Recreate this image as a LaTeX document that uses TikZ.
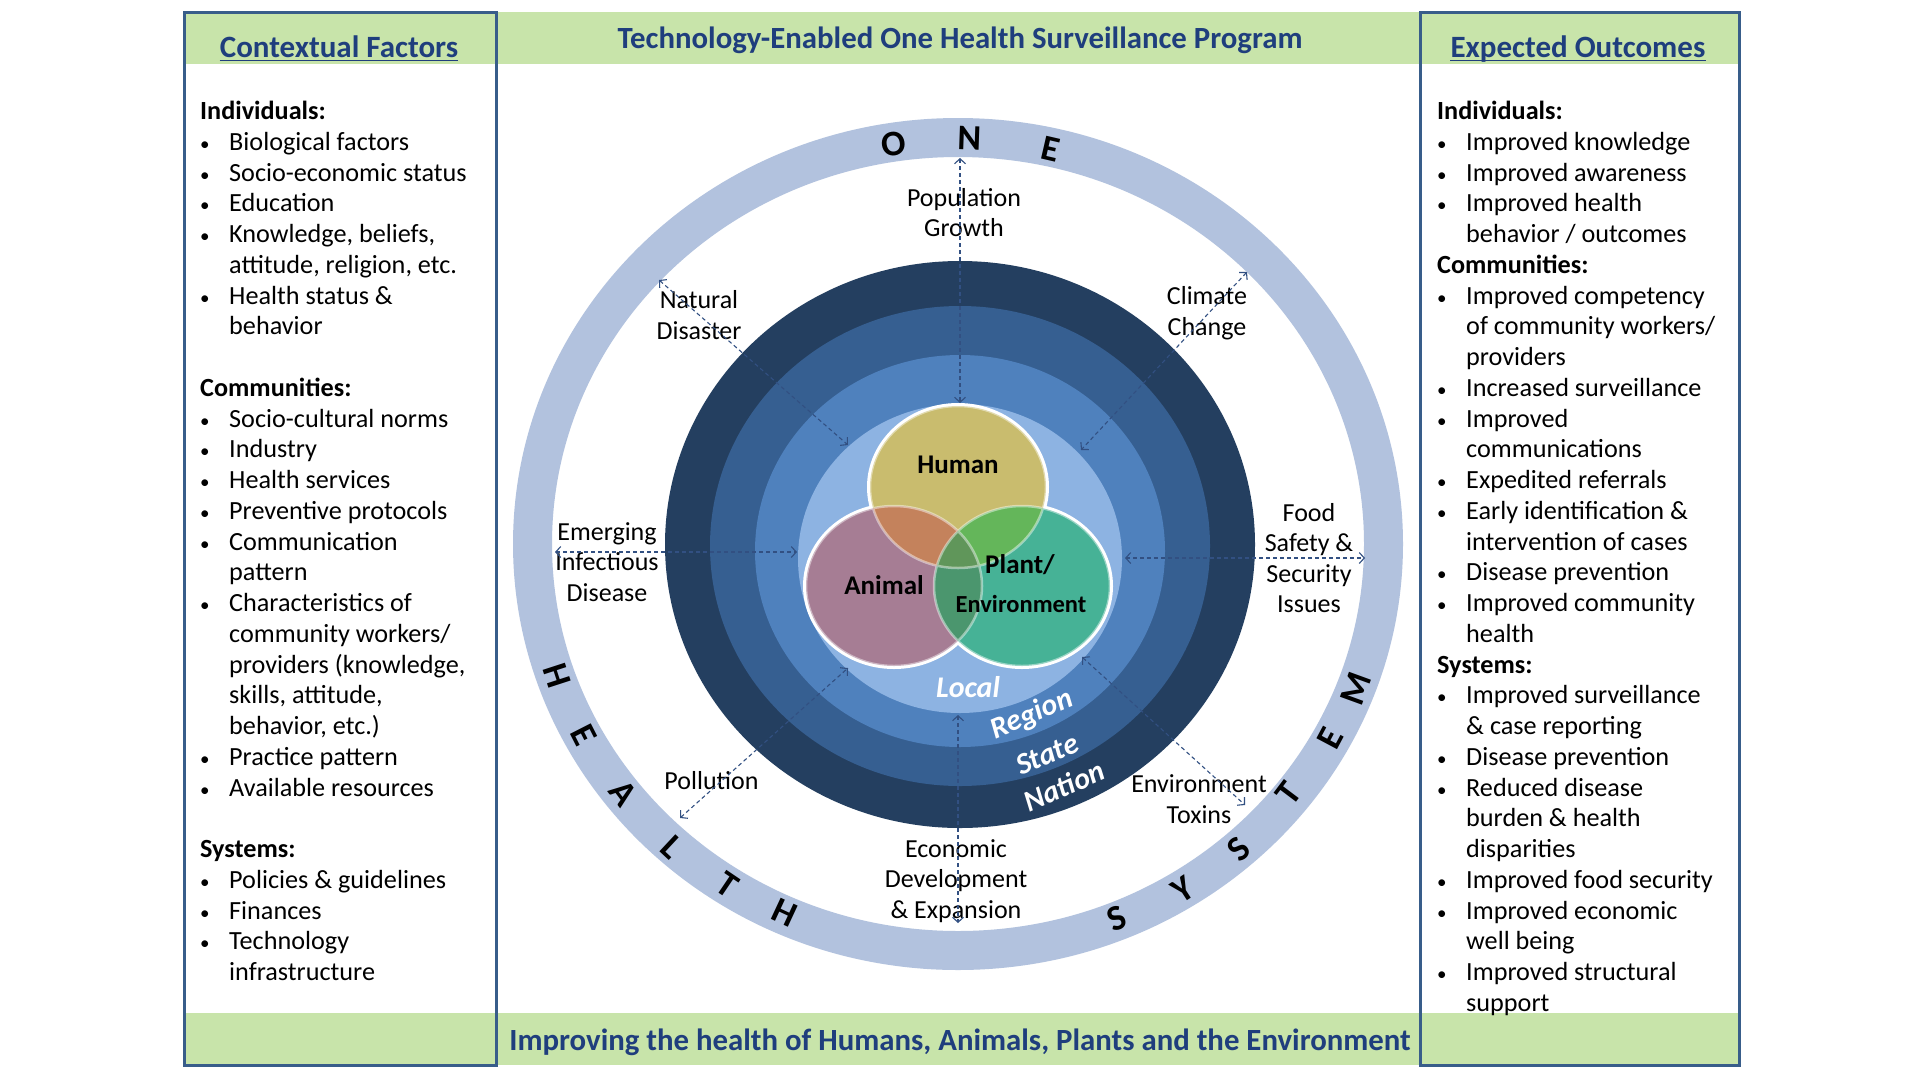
\documentclass[tikz,border=0pt]{standalone}
\usepackage{fontspec}
\setmainfont{Carlito}
\usetikzlibrary{arrows.meta}
\definecolor{gband}{RGB}{200,228,170}
\definecolor{framec}{RGB}{56,93,138}
\definecolor{ttl}{RGB}{31,62,125}
\definecolor{ringc}{RGB}{178,194,222}
\definecolor{navy}{RGB}{36,63,96}
\definecolor{ringb}{RGB}{54,95,145}
\definecolor{ringa}{RGB}{79,129,189}
\definecolor{lightb}{RGB}{141,179,226}
\definecolor{hum}{RGB}{201,188,110}
\definecolor{ani}{RGB}{166,125,148}
\definecolor{pla}{RGB}{70,178,150}
\definecolor{hac}{RGB}{196,130,92}
\definecolor{hpc}{RGB}{100,182,90}
\definecolor{apc}{RGB}{75,150,110}
\definecolor{hapc}{RGB}{96,150,90}
\definecolor{arrc}{RGB}{50,80,130}
\newcommand\pbul{\makebox[29pt][l]{{\fontsize{19}{19}\selectfont •}}}
\newcommand\pind{\hspace*{29pt}}
\begin{document}
\begin{tikzpicture}[x=1pt,y=-1pt,
  lbl/.style={font=\fontsize{26}{30.6}\selectfont, align=center, inner sep=0pt},
  ltr/.style={font=\fontsize{36}{36}\selectfont\bfseries, inner sep=0pt},
  darr/.style={draw=arrc, line width=1.1pt, dash pattern=on 4pt off 3pt,
    {Straight Barb[length=5pt,width=11pt]}-{Straight Barb[length=5pt,width=11pt]}},
  ringlbl/.style={font=\fontsize{30}{30}\selectfont\bfseries\itshape, text=white, inner sep=0pt},
  venn/.style={font=\fontsize{27}{27}\selectfont\bfseries, inner sep=0pt},
  head/.style={font=\fontsize{31}{31}\selectfont\bfseries, text=ttl, inner sep=0pt},
  panel/.style={anchor=base west, inner sep=0pt, font=\fontsize{26.2}{30.75}\selectfont}
]
\fill[white] (0,0) rectangle (1920,1080);
\useasboundingbox (0,0) rectangle (1920,1080);

% green bands
\fill[gband] (184,12) rectangle (1739,64);
\fill[gband] (184,1013) rectangle (1739,1065);

% outer ring
\fill[ringc, even odd rule] (958,544) ellipse [x radius=445, y radius=426]
   (958,544) ellipse [x radius=406, y radius=387];

% blue discs
\fill[navy] (960,544.5) ellipse [x radius=295, y radius=283.5];
\fill[ringb] (960,546) ellipse [x radius=250, y radius=240];
\fill[ringa] (960,551) ellipse [x radius=205, y radius=196];
\fill[lightb] (960,558.5) ellipse [x radius=162, y radius=154.5];

% venn
\def\pH{(958,487) ellipse [x radius=88, y radius=81]}
\def\pA{(894,586) ellipse [x radius=88, y radius=80]}
\def\pP{(1022,586) ellipse [x radius=88, y radius=80]}
\draw[white, line width=6pt] \pH \pA \pP;
\fill[hum] \pH;
\fill[ani] \pA;
\fill[pla] \pP;
\begin{scope}\clip \pH; \fill[hac] \pA; \fill[hpc] \pP;\end{scope}
\begin{scope}\clip \pA; \fill[apc] \pP;\end{scope}
\begin{scope}\clip \pH; \clip \pA; \fill[hapc] \pP;\end{scope}
\draw[white, opacity=0.45, line width=2.5pt] \pH \pA \pP;

\node[venn] (human) at (958,465) {Human};
\node[venn] (animal) at (884,585) {Animal};
\node[venn] (plant) at (1020,565) {Plant/};
\node[venn, font=\fontsize{24.5}{24.5}\selectfont\bfseries] (envr) at (1021,604) {Environment};

% ring labels
\node[ringlbl] (local) at (968,687) {Local};
\node[ringlbl, rotate=23] (region) at (1032,715) {Region};
\node[ringlbl, rotate=23] (state) at (1047,754) {State};
\node[ringlbl, rotate=24] (nation) at (1064,786) {Nation};

% ring letters
\node[ltr, rotate=9] (o1) at (894,144.5) {O};
\node[ltr, rotate=-2] (n1) at (970,138) {N};
\node[ltr, rotate=-13] (e1) at (1051,149) {E};
\node[ltr, rotate=-72] (h1) at (557,676) {H};
\node[ltr, rotate=-63] (e2) at (584,735) {E};
\node[ltr, rotate=-53] (a2) at (623,793) {A};
\node[ltr, rotate=-43] (l2) at (672,847) {L};
\node[ltr, rotate=-34] (t2) at (727,885) {T};
\node[ltr, rotate=-25] (h2) at (785,913) {H};
\node[ltr, rotate=23] (s3) at (1117,918) {S};
\node[ltr, rotate=33] (y3) at (1183,890) {Y};
\node[ltr, rotate=43] (s4) at (1239,849) {S};
\node[ltr, rotate=53] (t3) at (1289,793.5) {T};
\node[ltr, rotate=62] (e3) at (1330,738) {E};
\node[ltr, rotate=70] (m3) at (1355.5,689) {M};

% factor labels
\node[lbl] (popg) at (964,212.5) {Population\\Growth};
\node[lbl] (natd) at (699,315) {Natural\\Disaster};
\node[lbl] (clim) at (1207,313) {Climate\\Change};
\node[lbl] (emer) at (607,562) {Emerging\\Infectious\\Disease};
\node[lbl] (food) at (1309,558) {Food\\Safety \&\\Security\\Issues};
\node[lbl] (poll) at (711.5,781) {Pollution};
\node[lbl] (envt) at (1199,799) {Environment\\Toxins};
\node[lbl] (econ) at (956,881) {Economic\\Development\\\& Expansion};

% arrows
\coordinate (pgA) at (960,158); \coordinate (pgB) at (960,403);
\coordinate (ndA) at (659,280); \coordinate (ndB) at (848,445);
\coordinate (ccA) at (1247,272); \coordinate (ccB) at (1081,450);
\coordinate (eiA) at (555,552); \coordinate (eiB) at (797,552);
\coordinate (fsA) at (1125,558); \coordinate (fsB) at (1365,558);
\coordinate (plA) at (680,818); \coordinate (plB) at (848,668);
\coordinate (etA) at (1082,657); \coordinate (etB) at (1245,805);
\coordinate (edA) at (958,715); \coordinate (edB) at (958,923);
\draw[darr] (pgA) -- (pgB);
\draw[darr] (ndA) -- (ndB);
\draw[darr] (ccA) -- (ccB);
\draw[darr] (eiA) -- (eiB);
\draw[darr] (fsA) -- (fsB);
\draw[darr] (plA) -- (plB);
\draw[darr] (etA) -- (etB);
\draw[darr] (edA) -- (edB);

% titles
\node[font=\fontsize{30.8}{30.8}\selectfont\bfseries, text=ttl, inner sep=0pt] (title) at (960,40) {Technology-Enabled One Health Surveillance Program};
\node[font=\fontsize{30.8}{30.8}\selectfont\bfseries, text=ttl, inner sep=0pt] (foot) at (960,1042) {Improving the health of Humans, Animals, Plants and the Environment};

% panel frames
\draw[framec, line width=3pt] (184,12) rectangle (496,1065);
\draw[framec, line width=3pt] (1420,12) rectangle (1739,1065);

\node[head, anchor=base] (cfh) at (339,57.5) {Contextual Factors};
\draw[ttl, line width=1.8pt] ([yshift=-3pt]cfh.base west) -- ([yshift=-3pt]cfh.base east);
\node[head, anchor=base] (eoh) at (1578,57.5) {Expected Outcomes};
\draw[ttl, line width=1.8pt] ([yshift=-3pt]eoh.base west) -- ([yshift=-3pt]eoh.base east);

\node[panel] (cft) at (200,119.5) {%
\begin{tabular}[t]{@{}l@{}}
\textbf{Individuals:}\\
\pbul Biological factors\\
\pbul Socio-economic status\\
\pbul Education\\
\pbul Knowledge, beliefs,\\
\pind attitude, religion, etc.\\
\pbul Health status \&\\
\pind behavior\\
\\
\textbf{Communities:}\\
\pbul Socio-cultural norms\\
\pbul Industry\\
\pbul Health services\\
\pbul Preventive protocols\\
\pbul Communication\\
\pind pattern\\
\pbul Characteristics of\\
\pind community workers/\\
\pind providers (knowledge,\\
\pind skills, attitude,\\
\pind behavior, etc.)\\
\pbul Practice pattern\\
\pbul Available resources\\
\\
\textbf{Systems:}\\
\pbul Policies \& guidelines\\
\pbul Finances\\
\pbul Technology\\
\pind infrastructure
\end{tabular}};

\node[panel] (eot) at (1437,119.5) {%
\begin{tabular}[t]{@{}l@{}}
\textbf{Individuals:}\\
\pbul Improved knowledge\\
\pbul Improved awareness\\
\pbul Improved health\\
\pind behavior / outcomes\\
\textbf{Communities:}\\
\pbul Improved competency\\
\pind of community workers/\\
\pind providers\\
\pbul Increased surveillance\\
\pbul Improved\\
\pind communications\\
\pbul Expedited referrals\\
\pbul Early identification \&\\
\pind intervention of cases\\
\pbul Disease prevention\\
\pbul Improved community\\
\pind health\\
\textbf{Systems:}\\
\pbul Improved surveillance\\
\pind \& case reporting\\
\pbul Disease prevention\\
\pbul Reduced disease\\
\pind burden \& health\\
\pind disparities\\
\pbul Improved food security\\
\pbul Improved economic\\
\pind well being\\
\pbul Improved structural\\
\pind support
\end{tabular}};
\end{tikzpicture}
\end{document}
